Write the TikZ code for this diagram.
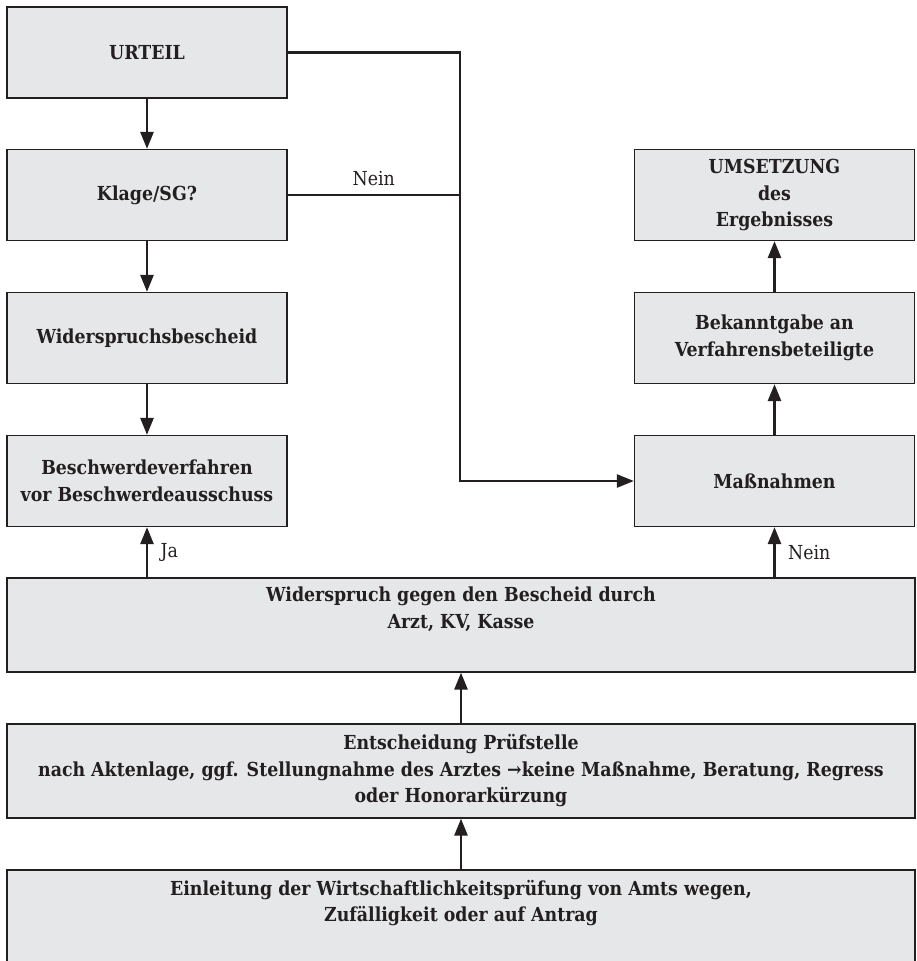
\documentclass[tikz,border=0pt]{standalone}
\usepackage{fontspec}
\setmainfont{DejaVu Serif Condensed}
\usetikzlibrary{arrows.meta, positioning}
\definecolor{boxgray}{RGB}{230,231,232}
\definecolor{inkblack}{RGB}{35,31,32}
\tikzset{
    stepbox/.style={draw=inkblack, fill=boxgray, rectangle, align=center, line width=1.3pt, inner sep=0pt, minimum width=280pt, minimum height=91pt, text=inkblack, font=\fontsize{19.3}{26.5}\selectfont\bfseries},
    widebox/.style={stepbox, minimum width=908pt, minimum height=94pt},
    arrow/.style={->, line width=2.7pt, draw=inkblack},
    line/.style={line width=2.4pt, draw=inkblack},
    answer/.style={text=inkblack, font=\fontsize{19.3}{22}\selectfont}
}
\begin{document}
\begin{tikzpicture}[x=1pt, y=-1pt, >={Triangle[length=17pt,width=13pt]}]
        \clip (0,0) rectangle (916,961);

        % -----------------------------------------------------------------
        % LINKE SPALTE
        % -----------------------------------------------------------------
        \node[stepbox] (urteil) at (147,52.5) {URTEIL};
        \node[stepbox] (klage) at (147,195) {Klage/SG?};
        \node[stepbox] (wbescheid) at (147,338) {Widerspruchsbescheid};
        \node[stepbox] (beschwerde) at (147,481) {Beschwerdeverfahren\\vor Beschwerdeausschuss};

        % -----------------------------------------------------------------
        % RECHTE SPALTE
        % -----------------------------------------------------------------
        \node[stepbox] (umsetzung) at (774.5,195) {UMSETZUNG\\des\\Ergebnisses};
        \node[stepbox] (bekanntgabe) at (774.5,338) {Bekanntgabe an\\Verfahrensbeteiligte};
        \node[stepbox] (massnahmen) at (774.5,481) {Maßnahmen};

        % -----------------------------------------------------------------
        % BREITE KAESTEN
        % -----------------------------------------------------------------
        \node[widebox] (widerspruch) at (461,625) {Widerspruch gegen den Bescheid durch\\Arzt, KV, Kasse\\\strut};
        \node[widebox] (entscheidung) at (461,771) {Entscheidung Prüfstelle\\nach Aktenlage, ggf. Stellungnahme des Arztes →keine Maßnahme, Beratung, Regress\\oder Honorarkürzung};
        \node[widebox, minimum height=96pt] (einleitung) at (461,918) {Einleitung der Wirtschaftlichkeitsprüfung von Amts wegen,\\Zufälligkeit oder auf Antrag\\\strut};

        % -----------------------------------------------------------------
        % VERBINDUNGEN
        % -----------------------------------------------------------------
        \coordinate (bus) at (460,0);
        \draw[arrow] (urteil) -- (klage);
        \draw[arrow] (klage) -- (wbescheid);
        \draw[arrow] (wbescheid) -- (beschwerde);
        \draw[line, ->] (urteil.east) -| (bus |- massnahmen.west) -- (massnahmen.west);
        \draw[line] (klage.east) -- (klage.east -| bus) node[midway, above=5pt, answer] {Nein};
        \draw[arrow] (massnahmen) -- (umsetzung |- bekanntgabe.south);
        \draw[arrow] (bekanntgabe) -- (umsetzung);
        \draw[arrow] (widerspruch.north -| beschwerde.south) -- (beschwerde.south) node[midway, right=9pt, answer] {Ja};
        \draw[arrow] (widerspruch.north -| massnahmen.south) -- (massnahmen.south) node[midway, right=9pt, answer] {Nein};
        \draw[arrow] (entscheidung) -- (widerspruch);
        \draw[arrow] (einleitung) -- (entscheidung);

\end{tikzpicture}
\end{document}
